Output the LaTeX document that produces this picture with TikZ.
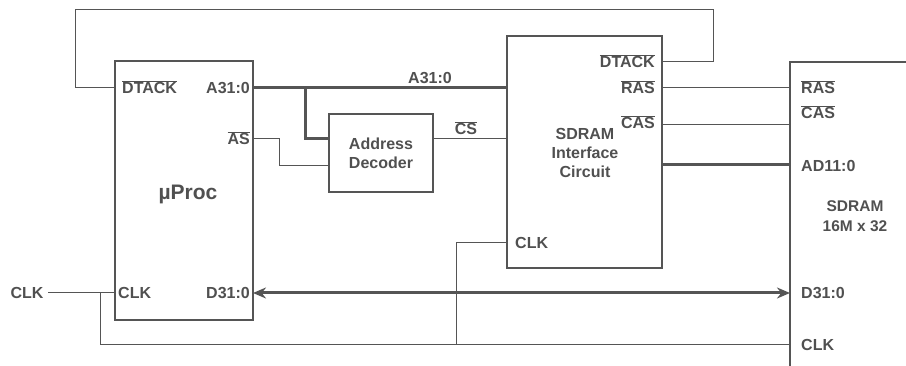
\documentclass[tikz,border=0pt]{standalone}
\usepackage{fontspec}
\setmainfont{Liberation Sans}
\usetikzlibrary{arrows.meta}
\definecolor{ink}{HTML}{505050}
\definecolor{wire}{HTML}{555555}
\newcommand\olbar[1]{$\overline{\mbox{#1}}$}
\begin{document}
\begin{tikzpicture}[x=1pt,y=-1pt,
  every node/.style={font=\bfseries\fontsize{16}{19}\selectfont, text=ink, inner sep=0pt},
  box/.style={draw=wire, line width=1.6pt, inner sep=0pt, outer sep=0pt, anchor=north west},
  thinw/.style={draw=wire, line width=1pt},
  bus/.style={draw=wire, line width=3pt},
  dbus/.style={draw=wire, line width=3pt, {Stealth[length=13pt,width=11pt]}-{Stealth[length=13pt,width=11pt]}},
  big/.style={font=\bfseries\fontsize{21}{24}\selectfont},
  small/.style={font=\bfseries\fontsize{15.5}{20}\selectfont, align=center}]
\useasboundingbox (0,0) rectangle (906,366);

% boxes
\node[box, minimum width=138pt, minimum height=259pt] (proc) at (115,61) {};
\node[box, minimum width=104pt, minimum height=78pt] (dec) at (329,114) {};
\node[box, minimum width=155pt, minimum height=232pt] (sif) at (507,36) {};
\coordinate (mtop) at (906,62);
\coordinate (mcorner) at (790,62);
\coordinate (mbot) at (790,366);
\draw[wire, line width=1.6pt] (mtop) -- (mcorner) -- (mbot);

% pin coordinates
\coordinate (pDT) at (115,88);
\coordinate (pA) at (253,88);
\coordinate (pAS) at (253,139);
\coordinate (pCLK) at (115,293);
\coordinate (pD) at (253,293);
\coordinate (dA) at (329,139);
\coordinate (dAS) at (329,166);
\coordinate (dCS) at (433,139);
\coordinate (sA) at (507,88);
\coordinate (sCS) at (507,139);
\coordinate (sCLK) at (507,243);
\coordinate (sDT) at (662,62);
\coordinate (sRAS) at (662,88);
\coordinate (sCAS) at (662,125);
\coordinate (sAD) at (662,165);
\coordinate (mRAS) at (790,88);
\coordinate (mCAS) at (790,125);
\coordinate (mAD) at (790,165);
\coordinate (mD) at (790,293);
\coordinate (mCLK) at (790,345);
\coordinate (extCLK) at (48,293);
\coordinate (jA) at (305,88);
\coordinate (jCLK) at (100,293);
\coordinate (jCLK2) at (456,345);

% wires
\draw[thinw] (pDT) -- (75,88) -- (75,10) -- (713,10) -- (713,62) -- (sDT);
\draw[bus] (pA) -- (sA);
\draw[bus] (jA) |- (dA);
\draw[thinw] (pAS) -- (279,139) -- (279,166) -- (dAS);
\draw[thinw] (dCS) -- (sCS);
\draw[thinw] (sRAS) -- (mRAS);
\draw[thinw] (sCAS) -- (mCAS);
\draw[bus] (sAD) -- (mAD);
\draw[dbus] (pD) -- (mD);
\draw[thinw] (extCLK) -- (pCLK);
\draw[thinw] (jCLK) |- (mCLK);
\draw[thinw] (jCLK2) |- (sCLK);

% uProc labels
\node[anchor=base west] (tpDT) at (122,94) {\olbar{DTACK}};
\node[anchor=base east] (tpA) at (250,94) {A31:0};
\node[anchor=base east] (tpAS) at (250,145) {\olbar{AS}};
\node[anchor=base west] (tpCLK) at (118,299) {CLK};
\node[anchor=base east] (tpD) at (250,299) {D31:0};
\node[big, anchor=base] (tproc) at (188,200) {µProc};

% decoder
\node[align=center] (tdec) at (381,153) {Address\\Decoder};
\node[anchor=base] (tA) at (430,84) {A31:0};
\node[anchor=base] (tCS) at (466,135) {\olbar{CS}};

% interface
\node[anchor=base east] (tsDT) at (655,68) {\olbar{DTACK}};
\node[anchor=base east] (tsRAS) at (655,94) {\olbar{RAS}};
\node[anchor=base east] (tsCAS) at (655,129) {\olbar{CAS}};
\node[align=center] (tsif) at (585,153) {SDRAM\\Interface\\Circuit};
\node[anchor=base west] (tsCLK) at (515,249) {CLK};

% SDRAM chip
\node[anchor=base west] (tmRAS) at (801,94) {\olbar{RAS}};
\node[anchor=base west] (tmCAS) at (801,119) {\olbar{CAS}};
\node[anchor=base west] (tmAD) at (801,172) {AD11:0};
\node[small] (tmem) at (855,216) {SDRAM\\16M x 32};
\node[anchor=base west] (tmD) at (801,299) {D31:0};
\node[anchor=base west] (tmCLK) at (801,351) {CLK};

% external clock
\node[anchor=base] (text) at (27,299) {CLK};
\end{tikzpicture}
\end{document}
